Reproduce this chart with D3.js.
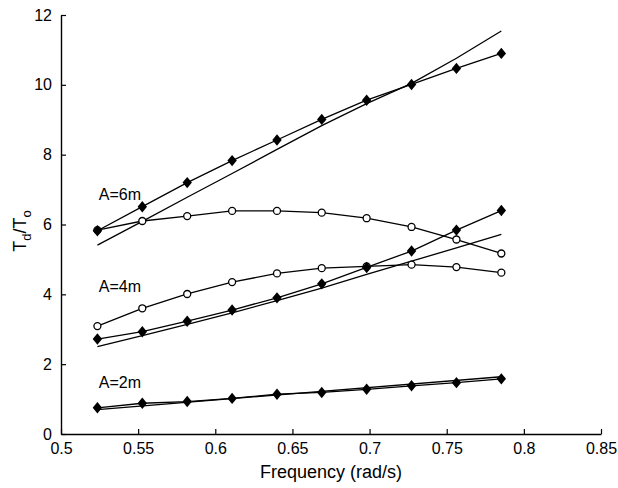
<!DOCTYPE html>
<html><head><meta charset="utf-8">
<script src="https://cdn.jsdelivr.net/npm/d3@7"></script>
<style>
html,body{margin:0;padding:0;background:#fff;}
text{font-family:"Liberation Sans",Arial,sans-serif;fill:#000;}
</style></head>
<body><svg id="c" width="618" height="488"></svg>
<script>
// ---- data ----
const freq = [0.5236, 0.5527, 0.5818, 0.6109, 0.6400, 0.6690, 0.6981, 0.7272, 0.7563, 0.7854];
const fitFreq = [0.5236, 0.7854];
const a6Diamond = [5.82, 6.51, 7.2, 7.83, 8.42, 9.01, 9.56, 10.01, 10.47, 10.9];
const a6Circle  = [5.84, 6.1, 6.24, 6.39, 6.39, 6.34, 6.18, 5.93, 5.57, 5.17];
const a6Fit     = [5.41, 6.09, 6.78, 7.46, 8.15, 8.83, 9.46, 10.04, 10.76, 11.54];
const a4Diamond = [2.72, 2.93, 3.23, 3.55, 3.9, 4.3, 4.77, 5.24, 5.84, 6.4];
const a4Circle  = [3.09, 3.6, 4.01, 4.35, 4.6, 4.75, 4.8, 4.85, 4.78, 4.62];
const a4Fit     = [2.5, 2.82, 3.14, 3.47, 3.82, 4.18, 4.57, 4.95, 5.33, 5.72];
const a2Diamond = [0.75, 0.88, 0.93, 1.02, 1.14, 1.19, 1.28, 1.38, 1.47, 1.58];
const a2Fit     = [0.7, 1.64];
const xTicks = [0.5, 0.55, 0.6, 0.65, 0.7, 0.75, 0.8, 0.85];
const yTicks = [0, 2, 4, 6, 8, 10, 12];
const labels = [{t:"A=6m", x:0.5245, y:6.7}, {t:"A=4m", x:0.5245, y:4.06}, {t:"A=2m", x:0.5245, y:1.32}];

const svg = d3.select("#c");
const x = d3.scaleLinear().domain([0.5, 0.85]).range([61, 601]);
const y = d3.scaleLinear().domain([0, 12]).range([434, 15]);

// axes
const xAxis = d3.axisBottom(x).tickValues(xTicks).tickSizeInner(-5).tickSizeOuter(0)
  .tickPadding(9).tickFormat(d => d3.format("")(+d.toFixed(2)));
const yAxis = d3.axisLeft(y).tickValues(yTicks).tickSizeInner(-5).tickSizeOuter(0)
  .tickPadding(9).tickFormat(d3.format("d"));
const gx = svg.append("g").attr("transform", "translate(0,434)").call(xAxis);
const gy = svg.append("g").attr("transform", "translate(61,0)").call(yAxis);
[gx, gy].forEach(g => {
  g.select(".domain").attr("stroke", "#000").attr("stroke-width", 1.4);
  g.selectAll(".tick line").attr("stroke", "#000").attr("stroke-width", 1.2);
  g.selectAll(".tick text").style("font-size", "16px").attr("fill", "#000")
    .style("font-family", '"Liberation Sans",Arial,sans-serif');
});

const line = d3.line().x(d => x(d[0])).y(d => y(d[1]));
function drawLine(xs, ys) {
  svg.append("path").datum(xs.map((v, i) => [v, ys[i]]))
    .attr("d", line).attr("fill", "none").attr("stroke", "#000").attr("stroke-width", 1.3);
}
// fit lines
drawLine(freq, a6Fit);
drawLine(freq, a4Fit);
drawLine(fitFreq, a2Fit);
// series lines
[a6Circle, a4Circle, a6Diamond, a4Diamond, a2Diamond].forEach(s => drawLine(freq, s));

// circle markers
[a6Circle, a4Circle].forEach(s => {
  svg.append("g").selectAll("circle").data(freq.map((v, i) => [v, s[i]])).join("circle")
    .attr("cx", d => x(d[0])).attr("cy", d => y(d[1])).attr("r", 3.5)
    .attr("fill", "#fff").attr("stroke", "#000").attr("stroke-width", 1.3);
});
// diamond markers
const diamond = d3.symbol().type({draw(ctx, size){ const h=5.7, w=4.7; ctx.moveTo(0,-h); ctx.lineTo(w,0); ctx.lineTo(0,h); ctx.lineTo(-w,0); ctx.closePath(); }});
[a6Diamond, a4Diamond, a2Diamond].forEach(s => {
  svg.append("g").selectAll("path").data(freq.map((v, i) => [v, s[i]])).join("path")
    .attr("transform", d => `translate(${x(d[0])},${y(d[1])})`)
    .attr("d", diamond()).attr("fill", "#000");
});

// series labels
svg.append("g").selectAll("text").data(labels).join("text")
  .attr("x", d => x(d.x)).attr("y", d => y(d.y)).style("font-size", "16px").text(d => d.t);

// axis titles
svg.append("text").attr("x", 331).attr("y", 478).attr("text-anchor", "middle")
  .style("font-size", "18px").text("Frequency (rad/s)");
const yt = svg.append("text").attr("transform", "translate(26,231) rotate(-90)")
  .attr("text-anchor", "middle").style("font-size", "18px");
yt.append("tspan").text("T");
yt.append("tspan").attr("dy", 5).style("font-size", "13px").text("d");
yt.append("tspan").attr("dy", -5).text("/T");
yt.append("tspan").attr("dy", 5).style("font-size", "13px").text("o");
</script></body></html>
